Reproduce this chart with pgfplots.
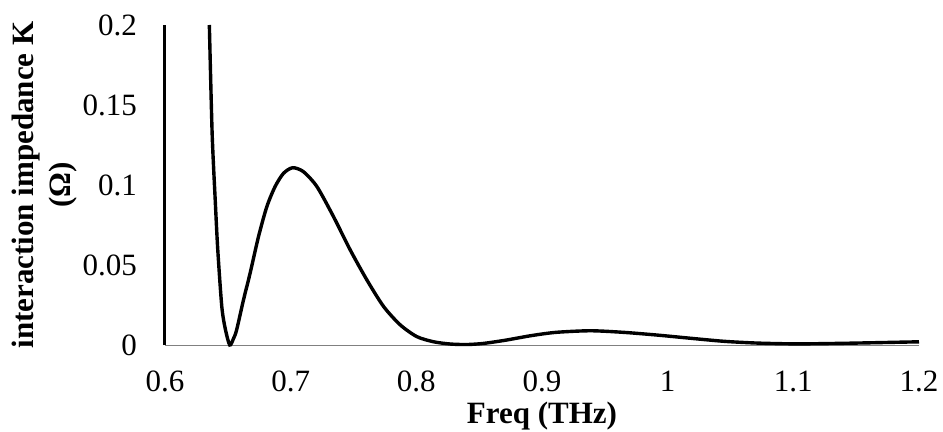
\documentclass[border=0pt]{standalone}
\usepackage{pgfplots}
\pgfplotsset{compat=1.18}
\usepackage{fontspec}
\setmainfont{Liberation Serif}

% interaction impedance K versus frequency
\pgfplotstableread{
f       K
0.6353  0.2000
0.6375  0.1325
0.6400  0.0900
0.6420  0.0594
0.6452  0.0240
0.6480  0.0100
0.6515  0.0000
0.6545  0.0040
0.6570  0.0094
0.6624  0.0280
0.6677  0.0448
0.6744  0.0677
0.6810  0.0864
0.6876  0.0990
0.6943  0.1073
0.7016  0.1108
0.7102  0.1083
0.7209  0.0990
0.7341  0.0802
0.7474  0.0594
0.7607  0.0406
0.7740  0.0240
0.7873  0.0125
0.8005  0.0052
0.8138  0.0020
0.8271  0.0006
0.8404  0.0003
0.8536  0.0010
0.8710  0.0030
0.8910  0.0058
0.9110  0.0079
0.9386  0.0089
0.9650  0.0079
0.9918  0.0062
1.0183  0.0042
1.0449  0.0023
1.0715  0.0012
1.1033  0.0007
1.1430  0.0011
1.2000  0.0020
}\impedance

\begin{document}
\begin{tikzpicture}
\path[use as bounding box] (-165bp,-87bp) rectangle (778bp,345bp);
\begin{axis}[
  at={(0,0)}, anchor=south west,
  scale only axis,
  width=754bp, height=320bp,
  xmin=0.6, xmax=1.2, ymin=0, ymax=0.2,
  clip=false,
  axis x line*=bottom,
  axis y line*=left,
  x axis line style={draw=gray, line width=0.9bp, -},
  y axis line style={draw=black, line width=3bp, -},
  major tick length=0pt,
  xtick={0.6,0.7,0.8,0.9,1,1.1,1.2},
  ytick={0,0.05,0.1,0.15,0.2},
  xticklabels={0.6,0.7,0.8,0.9,1,1.1,1.2},
  yticklabels={0,0.05,0.1,0.15,0.2},
  tick label style={font=\fontsize{31bp}{36bp}\selectfont, inner sep=0pt},
  xticklabel style={anchor=north, yshift=-26bp},
  yticklabel style={anchor=east, xshift=-28bp},
  xlabel={Freq (THz)},
  ylabel={interaction impedance K\\(Ω)},
  label style={font=\bfseries\fontsize{31bp}{37bp}\selectfont, inner sep=0pt},
  xlabel style={at={(axis description cs:0.5,0)}, anchor=north, yshift=-57bp},
  ylabel style={at={(axis description cs:-0.1167,0.5)}, anchor=south, align=center},
]
\addplot[black, line width=3.4bp, smooth, tension=0.45] table[x=f, y=K] {\impedance};
\end{axis}
\end{tikzpicture}
\end{document}
